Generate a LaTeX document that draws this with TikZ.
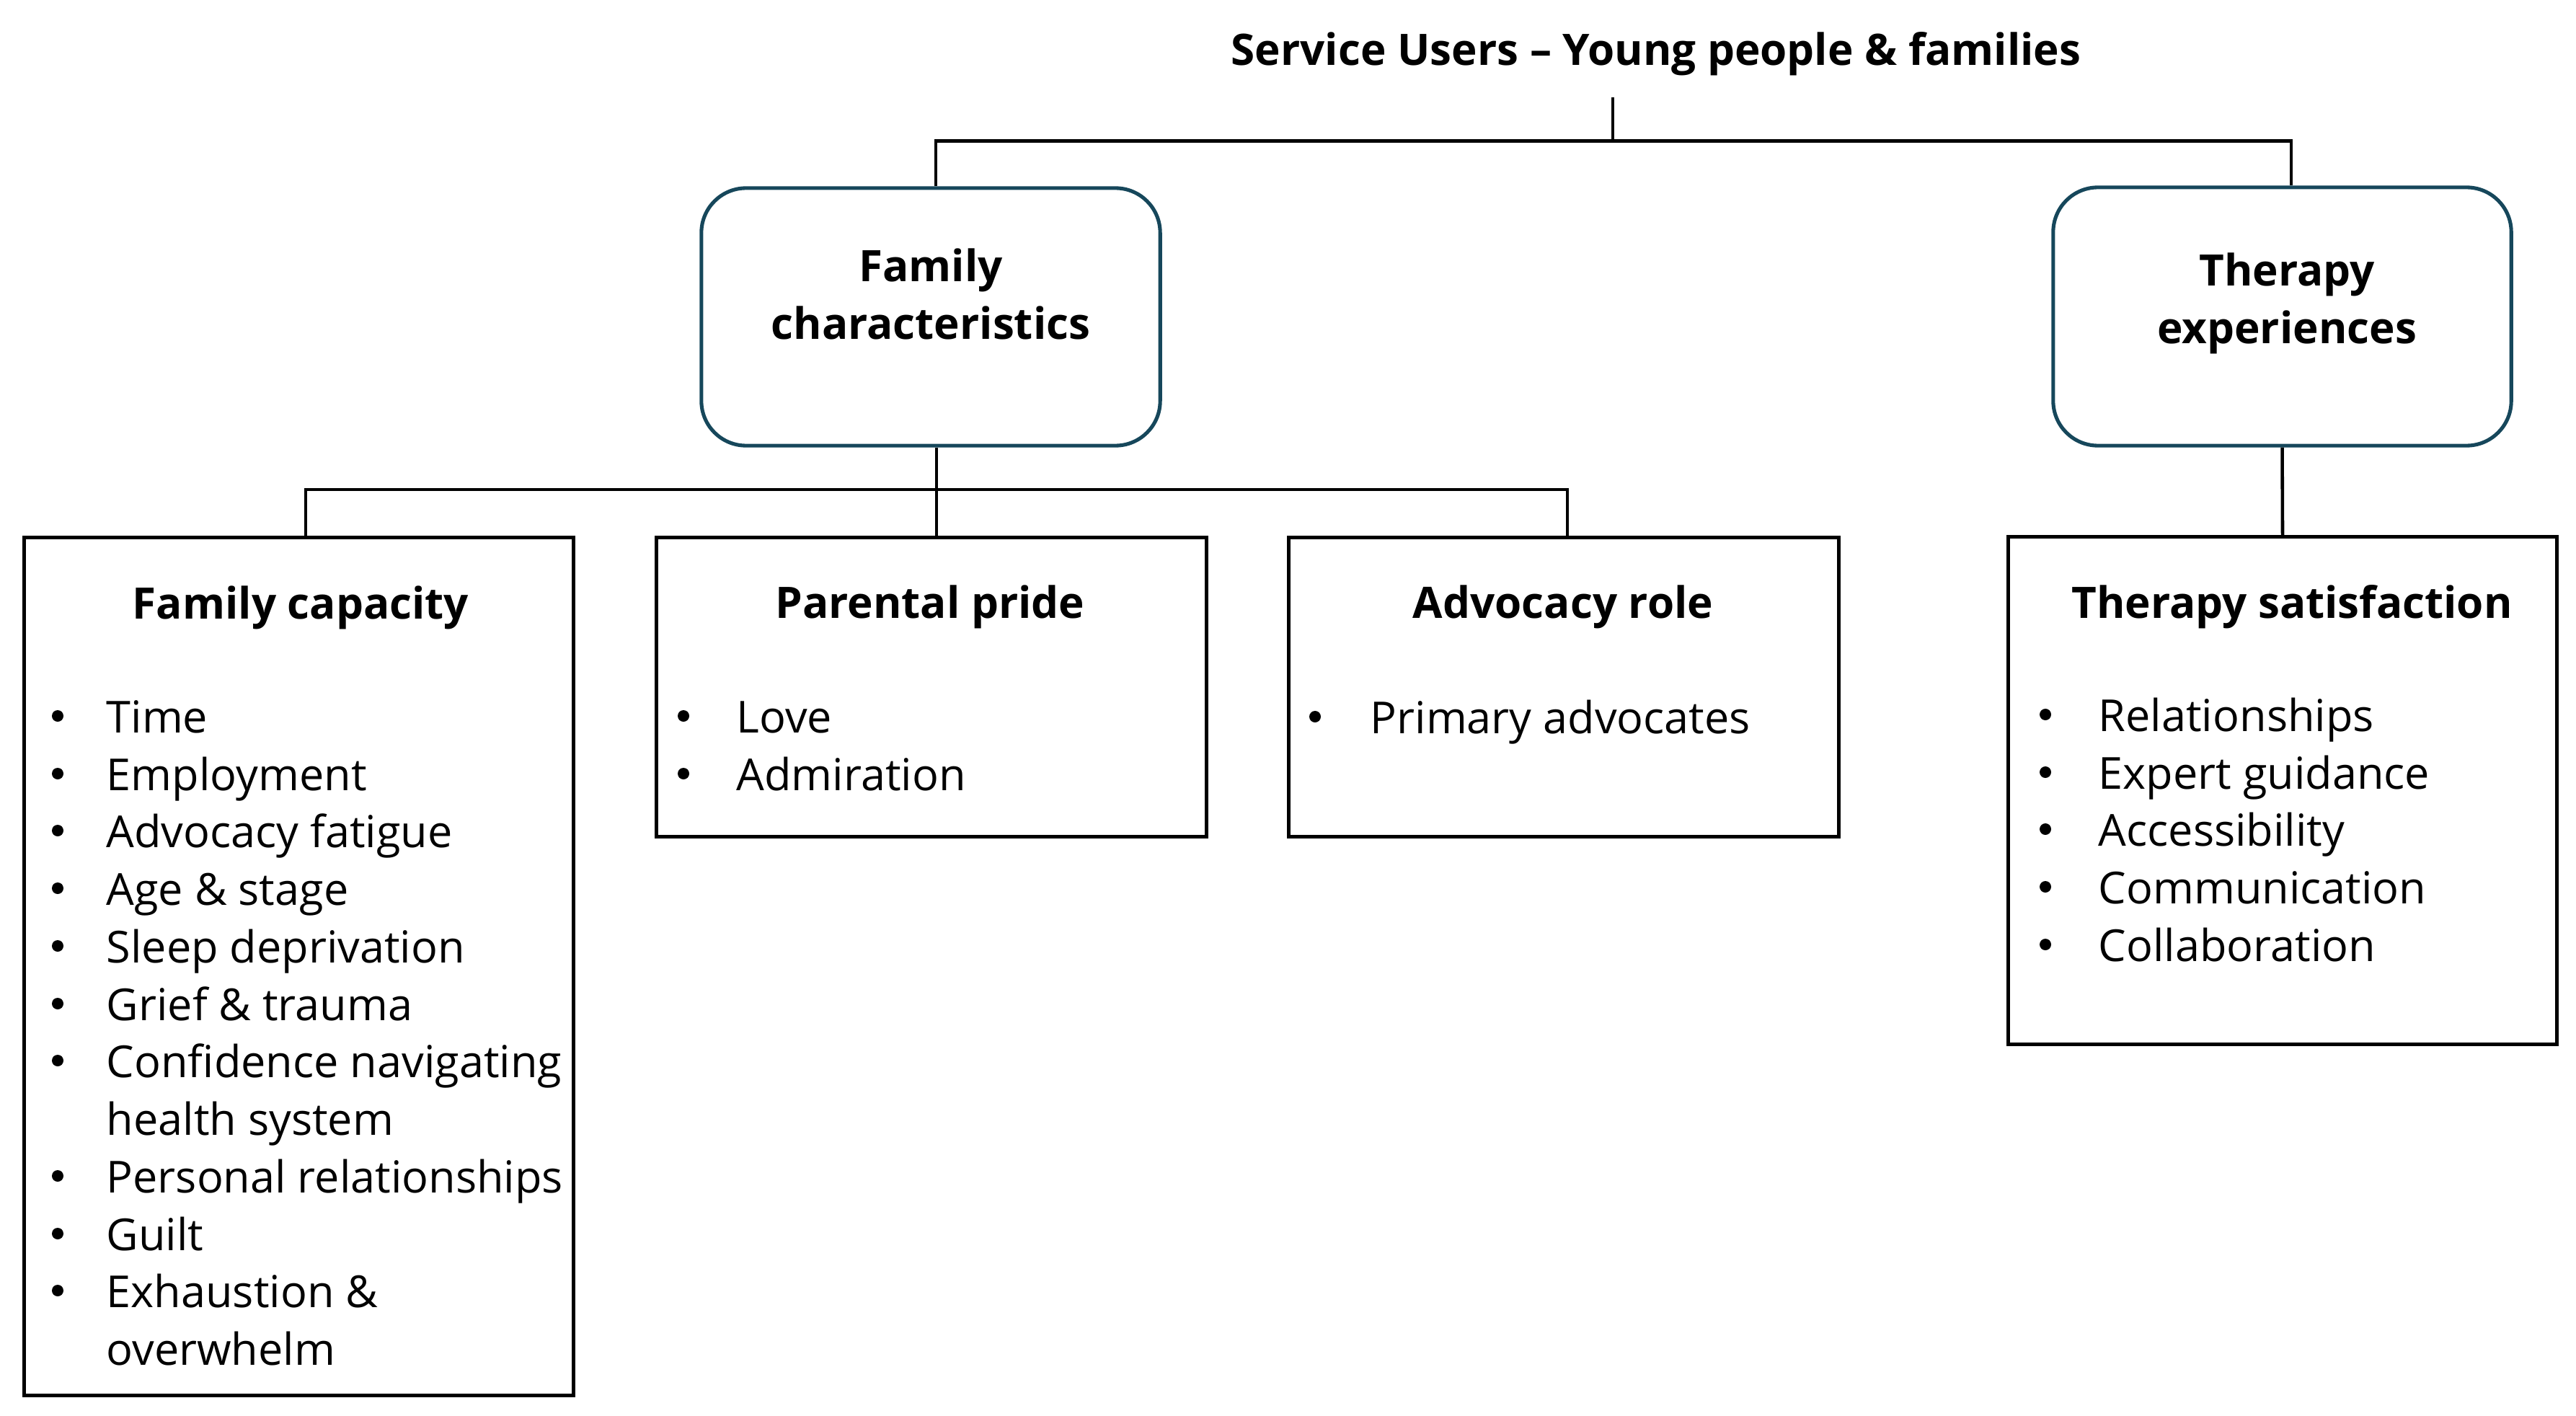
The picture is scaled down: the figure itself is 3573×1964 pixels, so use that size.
\documentclass[tikz,border=0pt]{standalone}
\usepackage{fontspec}
\setmainfont{Open Sans}
\definecolor{tealborder}{HTML}{16475B}
\begin{document}
\begin{tikzpicture}[x=0.01cm,y=-0.01cm,
  every node/.style={font=\fontsize{17.4}{22.7}\selectfont},
  conn/.style={draw=black,line width=1.3pt},
  roundbox/.style={draw=tealborder,line width=1.45pt,rounded corners=0.62cm,inner sep=0pt},
  listbox/.style={draw=black,line width=1.4pt,inner sep=0pt},
  hdr/.style={font=\fontsize{17.1}{22.7}\selectfont\bfseries,anchor=base,inner sep=0pt},
  itm/.style={anchor=base west,inner sep=0pt},
  bul/.style={circle,fill=black,draw=none,inner sep=0pt,minimum size=0.16cm}]
\useasboundingbox (0,0) rectangle (3573,1964);

% title
\node[hdr] (title) at (2297,91) {Service Users – Young people \& families};
\coordinate (root) at (2237,135);

% level 1 boxes
\node[roundbox,minimum width=6.36cm,minimum height=3.57cm] (fch) at (1291,439.5) {};
\node[roundbox,minimum width=6.35cm,minimum height=3.58cm] (tex) at (3165.5,439) {};
\node[hdr,align=center] (fchT) at (1291,470) {Family\\characteristics};
\node[hdr,align=center] (texT) at (3172,476) {Therapy\\experiences};

% level 2 boxes
\node[listbox,minimum width=7.61cm,minimum height=11.89cm] (fcap) at (414.5,1340.5) {};
\node[listbox,minimum width=7.62cm,minimum height=4.14cm] (pp) at (1292,953) {};
\node[listbox,minimum width=7.62cm,minimum height=4.14cm] (adv) at (2169,953) {};
\node[listbox,minimum width=7.60cm,minimum height=7.03cm] (tsat) at (3166,1096.5) {};

% connectors
\draw[conn] (root) -- ++(0,63);
\draw[conn] (fch.north -| 1298,0) -- ++(0,-63) -| (tex.north -| 3178,0);
\draw[conn] (fcap.north -| 424,0) -- ++(0,-64) -| (adv.north -| 2174,0);
\draw[conn] (fch.south -| 1299,0) -- (pp.north -| 1299,0);
\draw[conn] (tex.south) -- (tsat.north);

% headers
\node[hdr] (fcapH) at (417,858) {Family capacity};
\node[hdr] (ppH) at (1290,857) {Parental pride};
\node[hdr] (advH) at (2168,857) {Advocacy role};
\node[hdr] (tsatH) at (3179,857) {Therapy satisfaction};

% family capacity list
\foreach \y/\t in {1016/Time,1096/Employment,1175/Advocacy fatigue,1255/Age \& stage,
  1335/Sleep deprivation,1415/Grief \& trauma,1494/Confidence navigating,1574/health system,
  1654/Personal relationships,1734/Guilt,1813/Exhaustion \&,1893/overwhelm}
  \node[itm] (fcapI\y) at (147,\y) {\t};
\foreach \y in {1016,1096,1175,1255,1335,1415,1494,1654,1734,1813}
  \node[bul] (fcapB\y) at (80,\y-23) {};

% parental pride list
\foreach \y/\t in {1016/Love,1096/Admiration}
  \node[itm] (ppI\y) at (1021,\y) {\t};
\foreach \y in {1016,1096}
  \node[bul] (ppB\y) at (948,\y-23) {};

% advocacy list
\node[itm] (advI) at (1900,1017) {Primary advocates};
\node[bul] (advB) at (1824,994) {};

% therapy satisfaction list
\foreach \y/\t in {1014/Relationships,1094/Expert guidance,1173/Accessibility,1253/Communication,1333/Collaboration}
  \node[itm] (tsatI\y) at (2910,\y) {\t};
\foreach \y in {1014,1094,1173,1253,1333}
  \node[bul] (tsatB\y) at (2837,\y-23) {};
\end{tikzpicture}
\end{document}
